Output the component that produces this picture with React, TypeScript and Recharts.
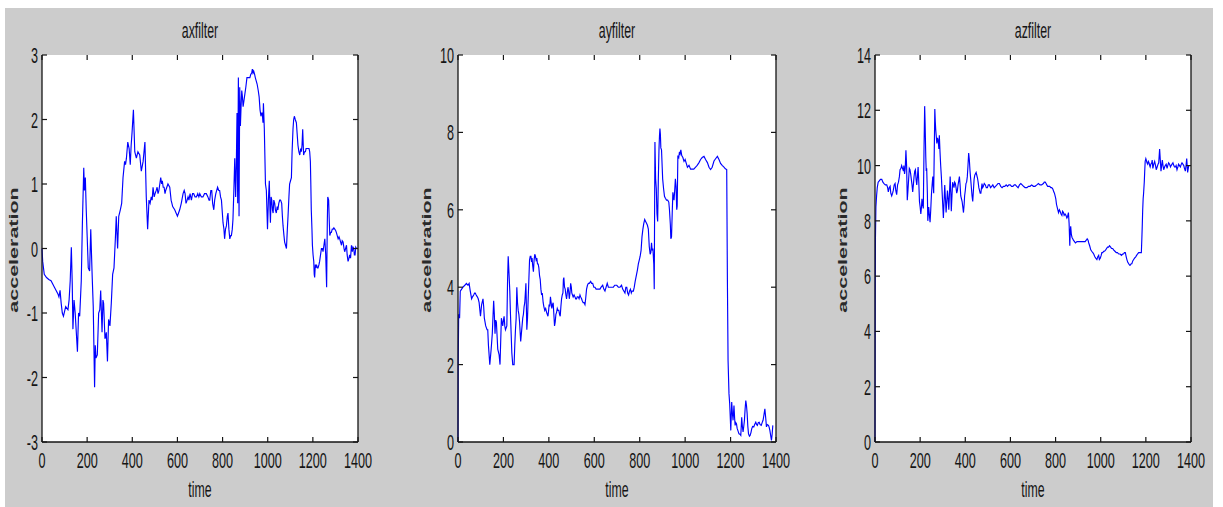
import { LineChart, Line, XAxis, YAxis, CartesianGrid } from "recharts";

// axfilter
const axTime = [0, 3, 10, 20, 30, 40, 55, 70, 75, 80, 85, 90, 95, 105, 115, 120, 125, 130, 134, 137, 142, 147, 152, 157, 162, 167, 174, 179, 185, 188, 192, 196, 200, 205, 211, 216, 222, 227, 233, 236, 239, 245, 251, 256, 260, 266, 270, 273, 279, 285, 290, 295, 301, 307, 313, 319, 325, 329, 335, 340, 347, 353, 359, 366, 370, 374, 380, 386, 391, 395, 399, 405, 411, 418, 425, 433, 440, 448, 456, 462, 468, 474, 479, 484, 488, 492, 497, 501, 506, 510, 514, 518, 522, 526, 530, 533, 537, 541, 545, 548, 553, 558, 566, 572, 579, 588, 594, 600, 605, 610, 617, 625, 630, 634, 638, 643, 647, 651, 656, 662, 667, 672, 678, 684, 690, 695, 699, 706, 713, 720, 728, 735, 740, 743, 748, 752, 756, 761, 765, 770, 774, 778, 783, 787, 791, 795, 799, 802, 806, 809, 813, 817, 821, 824, 828, 832, 836, 839, 843, 846, 850, 854, 858, 861, 864, 867, 870, 873, 876, 879, 882, 885, 888, 891, 895, 899, 903, 908, 912, 917, 921, 925, 929, 932, 935, 938, 942, 945, 949, 953, 958, 962, 966, 970, 973, 976, 979, 981, 985, 990, 994, 999, 1003, 1007, 1010, 1012, 1015, 1018, 1021, 1024, 1027, 1031, 1034, 1038, 1042, 1045, 1049, 1053, 1057, 1062, 1065, 1068, 1072, 1075, 1079, 1083, 1087, 1090, 1094, 1097, 1101, 1105, 1108, 1112, 1115, 1118, 1122, 1127, 1130, 1134, 1138, 1142, 1146, 1149, 1152, 1155, 1159, 1163, 1167, 1170, 1174, 1178, 1183, 1186, 1189, 1191, 1193, 1196, 1198, 1201, 1204, 1206, 1208, 1211, 1213, 1216, 1220, 1223, 1227, 1230, 1234, 1238, 1242, 1245, 1249, 1253, 1257, 1261, 1264, 1266, 1270, 1273, 1275, 1279, 1282, 1286, 1290, 1293, 1297, 1301, 1304, 1308, 1312, 1316, 1319, 1323, 1327, 1330, 1334, 1338, 1341, 1345, 1349, 1352, 1356, 1360, 1363, 1367, 1371, 1375, 1378, 1381, 1384, 1387, 1390, 1393];
const axValue = [0, -0.2, -0.4, -0.45, -0.48, -0.5, -0.6, -0.7, -0.75, -0.65, -0.85, -1.0, -1.05, -0.9, -0.95, -0.8, -0.5, 0.02, -0.55, -1.25, -0.8, -1.0, -1.3, -1.6, -1.0, -1.05, -0.5, 0.4, 1.25, 0.9, 1.1, 0.6, 0.2, -0.3, -0.35, 0.3, -0.4, -0.9, -2.15, -1.5, -1.7, -1.65, -1.0, -0.95, -0.65, -1.3, -0.8, -0.85, -1.4, -1.3, -1.75, -1.1, -1.2, -0.85, -0.4, -0.3, 0.15, 0.5, 0.0, 0.5, 0.6, 0.7, 1.1, 1.35, 1.3, 1.4, 1.65, 1.55, 1.3, 1.6, 1.8, 2.15, 1.5, 1.4, 1.5, 1.45, 1.2, 1.35, 1.65, 0.8, 0.3, 0.75, 0.7, 0.8, 0.75, 0.95, 0.8, 0.85, 0.9, 0.95, 0.85, 0.9, 1.0, 1.1, 1.0, 1.05, 0.95, 0.95, 0.85, 0.9, 0.95, 1.0, 0.95, 0.75, 0.65, 0.6, 0.55, 0.5, 0.55, 0.6, 0.7, 0.85, 0.9, 0.85, 0.7, 0.75, 0.8, 0.75, 0.85, 0.75, 0.85, 0.85, 0.8, 0.8, 0.85, 0.8, 0.85, 0.8, 0.8, 0.85, 0.85, 0.8, 0.75, 0.75, 0.9, 0.9, 0.7, 0.6, 0.75, 0.85, 0.9, 0.95, 0.9, 0.9, 0.8, 0.75, 0.55, 0.4, 0.3, 0.15, 0.3, 0.35, 0.5, 0.55, 0.3, 0.15, 0.2, 0.2, 0.3, 0.45, 0.9, 1.4, 0.8, 1.3, 2.1, 0.7, 2.65, 0.5, 2.5, 1.9, 2.2, 2.45, 2.35, 2.2, 2.3, 2.4, 2.5, 2.65, 2.65, 2.65, 2.65, 2.7, 2.72, 2.78, 2.72, 2.75, 2.7, 2.65, 2.6, 2.55, 2.45, 2.35, 2.15, 2.05, 2.1, 2.1, 1.95, 2.25, 1.85, 1.0, 0.9, 0.3, 0.75, 1.05, 0.6, 0.4, 0.8, 0.75, 0.6, 0.55, 0.75, 0.7, 0.6, 0.55, 0.65, 0.6, 0.7, 0.75, 0.75, 0.7, 0.5, 0.35, 0.2, 0.1, 0.05, 0.0, 0.3, 0.5, 0.8, 1.0, 1.05, 1.1, 1.5, 1.85, 2.0, 2.05, 2.0, 1.95, 1.8, 1.6, 1.5, 1.45, 1.55, 1.5, 1.6, 1.85, 1.45, 1.5, 1.5, 1.55, 1.55, 1.55, 1.55, 1.5, 1.35, 1.0, 0.6, 0.3, 0.05, -0.1, -0.2, -0.4, -0.45, -0.25, -0.3, -0.25, -0.3, -0.3, -0.25, -0.2, -0.1, 0.0, 0.0, -0.05, 0.05, 0.15, -0.1, -0.6, 0.4, 0.8, 0.75, 0.4, 0.2, 0.25, 0.25, 0.3, 0.3, 0.32, 0.3, 0.28, 0.25, 0.2, 0.15, 0.18, 0.15, 0.1, 0.05, 0.12, 0.1, 0.0, -0.05, 0.0, 0.05, -0.1, -0.2, -0.15, -0.1, -0.15, 0.05, -0.05, 0.02, 0.0, -0.1, -0.1, 0.02, 0.0];

// ayfilter
const ayTime = [0, 1, 3, 7, 10, 16, 22, 30, 37, 44, 49, 54, 60, 64, 69, 73, 76, 80, 85, 89, 93, 99, 104, 110, 113, 116, 122, 128, 131, 134, 140, 146, 151, 157, 160, 163, 166, 169, 175, 181, 185, 191, 194, 197, 200, 203, 206, 209, 212, 215, 218, 221, 225, 228, 231, 234, 237, 241, 247, 250, 253, 256, 259, 262, 265, 268, 271, 276, 279, 282, 285, 288, 291, 294, 297, 299, 301, 303, 306, 309, 312, 315, 318, 321, 324, 326, 329, 332, 335, 338, 341, 344, 347, 350, 353, 356, 359, 362, 365, 368, 371, 375, 378, 382, 386, 390, 393, 396, 399, 401, 404, 407, 410, 413, 416, 419, 422, 425, 428, 431, 434, 437, 440, 444, 447, 450, 453, 456, 459, 462, 464, 466, 469, 472, 475, 478, 481, 484, 487, 490, 493, 496, 499, 501, 504, 507, 511, 515, 518, 522, 525, 529, 533, 537, 540, 544, 547, 551, 555, 559, 562, 566, 570, 574, 578, 584, 588, 593, 598, 603, 608, 613, 618, 625, 630, 637, 642, 647, 652, 657, 662, 669, 676, 684, 690, 699, 706, 713, 720, 725, 730, 735, 739, 743, 747, 751, 755, 759, 763, 766, 772, 776, 780, 785, 790, 794, 798, 802, 806, 810, 814, 818, 822, 826, 830, 834, 838, 842, 846, 849, 852, 855, 858, 862, 864, 866, 867, 870, 873, 876, 879, 882, 885, 887, 889, 891, 893, 896, 899, 901, 905, 909, 913, 918, 923, 928, 931, 935, 937, 940, 943, 946, 948, 951, 954, 957, 960, 963, 965, 968, 972, 975, 978, 981, 985, 990, 995, 1000, 1005, 1010, 1017, 1024, 1031, 1038, 1046, 1053, 1061, 1068, 1075, 1083, 1090, 1098, 1105, 1112, 1119, 1127, 1134, 1142, 1149, 1156, 1163, 1171, 1177, 1183, 1186, 1189, 1193, 1196, 1198, 1201, 1205, 1208, 1211, 1215, 1218, 1220, 1223, 1226, 1229, 1232, 1237, 1241, 1245, 1249, 1252, 1255, 1258, 1261, 1264, 1267, 1270, 1273, 1276, 1279, 1283, 1286, 1290, 1293, 1297, 1302, 1306, 1311, 1315, 1318, 1322, 1326, 1330, 1335, 1339, 1343, 1347, 1351, 1355, 1358, 1362, 1367, 1370, 1373, 1377, 1380, 1383, 1386];
const ayValue = [0, 2.1, 3.3, 3.2, 3.9, 3.95, 4.0, 4.05, 4.1, 4.05, 4.1, 3.9, 3.7, 3.75, 3.8, 3.85, 3.85, 3.8, 3.75, 3.7, 3.6, 3.25, 3.55, 3.7, 3.5, 3.2, 3.0, 2.9, 2.9, 2.5, 2.0, 2.4, 2.8, 3.65, 3.3, 2.8, 3.15, 3.1, 2.4, 2.25, 2.0, 3.2, 3.1, 3.0, 3.15, 3.25, 3.0, 2.9, 2.95, 3.0, 4.1, 4.8, 4.3, 3.9, 3.3, 2.8, 2.3, 2.0, 2.0, 2.5, 2.9, 3.2, 4.0, 3.6, 3.4, 3.3, 3.1, 2.6, 2.8, 3.0, 3.2, 3.3, 3.5, 3.6, 3.9, 4.1, 3.5, 2.9, 3.2, 3.7, 4.2, 4.7, 4.8, 4.8, 4.65, 4.75, 4.55, 4.4, 4.7, 4.85, 4.8, 4.7, 4.75, 4.6, 4.6, 4.5, 4.3, 4.2, 3.95, 3.8, 3.85, 3.6, 3.5, 3.4, 3.45, 3.35, 3.3, 3.25, 3.4, 3.55, 3.5, 3.75, 3.6, 3.45, 3.55, 3.6, 3.3, 3.0, 3.1, 3.3, 3.35, 3.45, 3.4, 3.4, 3.3, 3.25, 3.5, 3.7, 3.8, 3.85, 4.2, 4.25, 4.0, 3.95, 3.8, 3.7, 3.85, 4.0, 3.9, 3.7, 3.85, 4.1, 4.0, 3.85, 3.8, 3.75, 3.8, 3.75, 3.7, 3.7, 3.75, 3.75, 3.7, 3.8, 3.75, 3.7, 3.65, 3.6, 3.6, 3.55, 3.7, 3.95, 4.05, 4.1, 4.1, 4.15, 4.1, 4.1, 4.0, 4.0, 3.95, 3.95, 3.95, 3.95, 4.0, 4.05, 3.95, 3.9, 4.0, 4.1, 4.0, 4.0, 4.0, 4.0, 4.05, 4.05, 4.0, 4.0, 4.05, 3.95, 3.9, 3.85, 4.0, 4.0, 3.85, 3.8, 3.9, 3.95, 3.85, 3.9, 3.9, 4.0, 4.15, 4.3, 4.45, 4.6, 4.7, 4.8, 4.95, 5.3, 5.5, 5.65, 5.75, 5.7, 5.65, 5.6, 5.5, 5.05, 4.85, 4.9, 5.15, 4.95, 5.0, 4.6, 3.95, 6.5, 7.75, 6.8, 6.55, 5.9, 5.7, 6.8, 7.6, 7.9, 8.1, 7.95, 7.6, 7.55, 7.1, 6.8, 6.55, 6.35, 6.3, 6.25, 6.25, 6.2, 6.0, 5.6, 5.25, 5.3, 5.9, 6.45, 6.35, 6.25, 6.5, 6.8, 6.6, 6.0, 6.1, 7.4, 7.35, 7.5, 7.45, 7.55, 7.4, 7.35, 7.25, 7.3, 7.2, 7.1, 7.15, 7.05, 7.05, 7.05, 7.1, 7.15, 7.22, 7.3, 7.35, 7.38, 7.3, 7.22, 7.1, 7.04, 7.1, 7.26, 7.32, 7.38, 7.3, 7.2, 7.15, 7.1, 7.06, 7.04, 4.2, 2.1, 1.25, 1.0, 0.73, 0.3, 1.03, 0.75, 0.56, 0.94, 0.6, 0.43, 0.5, 0.47, 0.35, 0.3, 0.21, 0.2, 0.17, 0.64, 0.4, 0.26, 0.4, 0.56, 0.85, 1.07, 0.95, 0.73, 0.4, 0.21, 0.15, 0.17, 0.25, 0.34, 0.4, 0.39, 0.45, 0.51, 0.45, 0.43, 0.5, 0.51, 0.45, 0.43, 0.5, 0.56, 0.7, 0.86, 0.6, 0.39, 0.45, 0.43, 0.38, 0.3, 0.15, 0.04, 0.2, 0.43];

// azfilter
const azTime = [0, 1, 2, 4, 7, 10, 14, 19, 24, 30, 35, 40, 46, 52, 56, 59, 63, 67, 70, 74, 78, 81, 85, 89, 92, 96, 100, 104, 108, 111, 115, 118, 122, 126, 128, 131, 134, 137, 140, 143, 146, 149, 152, 155, 158, 161, 164, 167, 170, 173, 176, 179, 182, 185, 188, 191, 194, 197, 200, 203, 206, 208, 211, 214, 217, 220, 222, 225, 227, 229, 232, 234, 236, 238, 241, 244, 247, 250, 253, 256, 258, 260, 263, 265, 267, 269, 272, 274, 277, 280, 283, 285, 288, 291, 294, 297, 300, 303, 306, 309, 312, 315, 318, 321, 324, 327, 330, 333, 336, 338, 341, 344, 347, 350, 353, 356, 359, 362, 365, 368, 371, 374, 377, 380, 383, 386, 389, 392, 395, 397, 400, 403, 406, 409, 412, 415, 418, 421, 424, 427, 430, 433, 436, 439, 442, 445, 448, 451, 454, 457, 460, 463, 466, 469, 472, 474, 477, 480, 484, 489, 493, 498, 502, 507, 512, 517, 522, 528, 534, 540, 545, 551, 557, 563, 569, 575, 581, 587, 593, 599, 605, 611, 617, 622, 628, 634, 640, 646, 652, 658, 665, 673, 680, 687, 694, 702, 709, 717, 724, 731, 738, 746, 750, 754, 758, 761, 765, 770, 774, 779, 783, 788, 792, 795, 798, 801, 804, 807, 810, 813, 817, 820, 824, 828, 831, 835, 838, 842, 846, 850, 853, 857, 860, 863, 865, 867, 870, 873, 876, 879, 884, 888, 895, 902, 909, 916, 923, 931, 936, 940, 944, 947, 951, 956, 960, 965, 969, 974, 978, 983, 987, 991, 994, 998, 1002, 1005, 1009, 1013, 1017, 1022, 1026, 1030, 1035, 1039, 1044, 1048, 1053, 1057, 1063, 1069, 1074, 1080, 1086, 1092, 1097, 1101, 1105, 1109, 1113, 1116, 1120, 1124, 1128, 1131, 1135, 1138, 1142, 1146, 1150, 1155, 1159, 1163, 1168, 1172, 1176, 1180, 1182, 1184, 1186, 1188, 1190, 1193, 1195, 1197, 1200, 1202, 1205, 1208, 1211, 1214, 1217, 1219, 1222, 1226, 1228, 1231, 1235, 1239, 1243, 1246, 1250, 1254, 1257, 1261, 1264, 1267, 1270, 1273, 1276, 1279, 1283, 1286, 1290, 1294, 1297, 1301, 1305, 1309, 1312, 1316, 1320, 1324, 1327, 1331, 1334, 1338, 1342, 1345, 1349, 1353, 1357, 1360, 1364, 1368, 1371, 1375, 1378, 1381, 1383, 1385, 1388, 1390];
const azValue = [0, 5.0, 7.4, 8.5, 8.9, 9.2, 9.4, 9.45, 9.5, 9.5, 9.4, 9.35, 9.3, 9.3, 9.2, 9.05, 9.2, 9.25, 9.0, 8.9, 9.0, 9.1, 9.3, 9.35, 9.1, 8.95, 9.3, 9.4, 9.6, 9.85, 9.9, 10.0, 9.9, 9.8, 10.0, 9.7, 9.9, 10.55, 10.0, 8.75, 9.1, 9.5, 9.9, 9.85, 9.7, 9.5, 9.3, 9.05, 9.3, 9.6, 9.8, 9.85, 9.5, 9.3, 9.6, 9.95, 9.4, 8.7, 8.5, 8.25, 8.5, 8.8, 8.6, 8.45, 10.5, 12.15, 11.5, 10.3, 9.8, 9.9, 9.0, 8.0, 8.3, 8.5, 8.2, 7.95, 8.4, 8.95, 9.3, 9.6, 9.3, 9.0, 10.8, 12.05, 11.6, 11.3, 11.0, 10.8, 11.0, 10.9, 10.6, 11.1, 10.5, 10.0, 9.6, 9.1, 8.6, 8.1, 8.7, 9.3, 8.8, 8.3, 8.7, 9.1, 8.8, 8.4, 9.0, 9.6, 9.0, 8.35, 8.9, 9.4, 9.3, 9.2, 9.4, 9.35, 9.2, 9.0, 9.1, 9.3, 9.45, 9.6, 9.3, 8.9, 8.8, 8.7, 8.5, 8.3, 8.6, 8.9, 9.1, 9.35, 9.4, 9.6, 10.0, 10.45, 10.2, 9.8, 9.5, 9.2, 8.9, 8.7, 9.1, 9.5, 9.65, 9.7, 9.75, 9.65, 9.55, 9.4, 9.2, 9.1, 9.0, 9.0, 9.2, 9.35, 9.2, 9.25, 9.35, 9.3, 9.2, 9.2, 9.3, 9.3, 9.2, 9.25, 9.3, 9.2, 9.25, 9.3, 9.35, 9.35, 9.25, 9.2, 9.25, 9.25, 9.3, 9.25, 9.3, 9.3, 9.25, 9.25, 9.3, 9.3, 9.25, 9.2, 9.3, 9.35, 9.3, 9.25, 9.2, 9.2, 9.25, 9.25, 9.3, 9.25, 9.25, 9.3, 9.35, 9.3, 9.3, 9.35, 9.4, 9.4, 9.35, 9.3, 9.25, 9.25, 9.25, 9.2, 9.2, 9.15, 9.05, 9.0, 8.9, 8.8, 8.6, 8.5, 8.4, 8.3, 8.4, 8.35, 8.25, 8.2, 8.35, 8.3, 8.2, 8.25, 8.2, 8.1, 8.15, 8.3, 7.9, 7.1, 7.6, 7.8, 7.5, 7.4, 7.35, 7.3, 7.25, 7.2, 7.25, 7.25, 7.25, 7.25, 7.25, 7.25, 7.3, 7.35, 7.3, 7.2, 7.1, 6.95, 6.9, 6.85, 6.8, 6.7, 6.65, 6.6, 6.7, 6.75, 6.6, 6.65, 6.75, 6.85, 6.85, 6.9, 6.9, 6.95, 7.0, 7.05, 7.05, 7.1, 7.05, 7.0, 7.0, 6.95, 6.9, 6.85, 6.85, 6.8, 6.8, 6.75, 6.8, 6.8, 6.85, 6.85, 6.7, 6.6, 6.5, 6.45, 6.4, 6.4, 6.45, 6.45, 6.55, 6.6, 6.65, 6.7, 6.75, 6.8, 6.85, 6.85, 6.85, 6.85, 7.3, 7.8, 8.4, 8.8, 9.0, 9.4, 9.8, 10.15, 10.25, 10.2, 10.1, 10.05, 10.15, 10.1, 10.0, 9.95, 10.05, 10.1, 10.2, 9.9, 10.05, 10.15, 10.0, 9.85, 9.95, 10.05, 10.1, 10.6, 10.2, 9.8, 10.0, 10.2, 10.0, 9.85, 9.95, 10.0, 10.05, 9.9, 10.0, 10.1, 10.05, 9.95, 10.0, 10.05, 10.1, 10.0, 9.95, 9.95, 10.0, 9.85, 9.95, 10.05, 10.0, 9.95, 10.05, 10.1, 10.05, 10.0, 9.9, 9.8, 10.0, 10.25, 10.0, 9.75, 9.9, 10.0];

const timeTicks = [0, 200, 400, 600, 800, 1000, 1200, 1400];
const axTicks = [-3, -2, -1, 0, 1, 2, 3];
const ayTicks = [0, 2, 4, 6, 8, 10];
const azTicks = [0, 2, 4, 6, 8, 10, 12, 14];

const FONT = '"Liberation Sans", Arial, sans-serif';
const INK = "#151515";
const SQUEEZE = 0.56;
const H = 507;
const PLOT_TOP = 55;
const PLOT_BOTTOM = 442;
const TICK = 5;

function Panel({ title, times, values, yTicks, left, width, plotLeft, plotRight, labelX }) {
  const data = times.map((t, i) => ({ t, v: values[i] }));
  const domain = [yTicks[0], yTicks[yTicks.length - 1]];
  const rightW = width - plotRight;
  const midX = (plotLeft + plotRight) / 2;
  const frame = { stroke: INK, strokeWidth: 1.3 };

  const xTick = (p) => (
    <g>
      <line x1={p.x} x2={p.x} y1={PLOT_BOTTOM} y2={PLOT_BOTTOM - TICK} stroke={INK} strokeWidth={1.2} />
      <line x1={p.x} x2={p.x} y1={PLOT_TOP} y2={PLOT_TOP + TICK} stroke={INK} strokeWidth={1.2} />
      <text
        transform={`translate(${p.x},468) scale(${SQUEEZE},1)`}
        textAnchor="middle"
        fontSize={22.5}
        fontFamily={FONT}
        fill={INK}
      >
        {p.payload.value}
      </text>
    </g>
  );

  const yTick = (p) => (
    <g>
      <line x1={plotLeft} x2={plotLeft + TICK} y1={p.y} y2={p.y} stroke={INK} strokeWidth={1.2} />
      <line x1={plotRight} x2={plotRight - TICK} y1={p.y} y2={p.y} stroke={INK} strokeWidth={1.2} />
      <text
        transform={`translate(${plotLeft - 4},${p.y + 8}) scale(${SQUEEZE},1)`}
        textAnchor="end"
        fontSize={22.5}
        fontFamily={FONT}
        fill={INK}
      >
        {p.payload.value}
      </text>
    </g>
  );

  return (
    <div style={{ position: "absolute", left, top: 0, width, height: H }}>
      <LineChart width={width} height={H} data={data} margin={{ top: PLOT_TOP, right: 0, bottom: 0, left: 0 }}>
        <CartesianGrid fill="#ffffff" horizontal={false} vertical={false} />
        <XAxis
          dataKey="t"
          type="number"
          domain={[0, 1400]}
          ticks={timeTicks}
          interval={0}
          height={H - PLOT_BOTTOM}
          tickLine={false}
          axisLine={frame}
          tick={xTick}
        />
        <XAxis
          xAxisId="top"
          orientation="top"
          type="number"
          domain={[0, 1400]}
          height={0}
          tick={false}
          tickLine={false}
          axisLine={frame}
        />
        <YAxis
          type="number"
          domain={domain}
          ticks={yTicks}
          interval={0}
          width={plotLeft}
          tickLine={false}
          axisLine={frame}
          tick={yTick}
        />
        <YAxis
          yAxisId="right"
          orientation="right"
          type="number"
          domain={domain}
          width={rightW}
          tick={false}
          tickLine={false}
          axisLine={frame}
        />
        <Line
          dataKey="v"
          type="linear"
          stroke="#0000ff"
          strokeWidth={1.15}
          dot={false}
          isAnimationActive={false}
        />
      </LineChart>
      <svg
        width={width}
        height={H}
        style={{ position: "absolute", left: 0, top: 0, pointerEvents: "none" }}
      >
        <text
          transform={`translate(${midX},38) scale(${SQUEEZE},1)`}
          textAnchor="middle"
          fontSize={22}
          fontFamily={FONT}
          fill={INK}
        >
          {title}
        </text>
        <text
          transform={`translate(${midX},497) scale(${SQUEEZE},1)`}
          textAnchor="middle"
          fontSize={22}
          fontFamily={FONT}
          fill={INK}
        >
          time
        </text>
        <text
          transform={`translate(${labelX},250) rotate(-90) scale(1,0.58)`}
          textAnchor="middle"
          fontSize={21.5}
          fontWeight={700}
          fontFamily={FONT}
          fill="#2a2a2a"
        >
          acceleration
        </text>
      </svg>
    </div>
  );
}

export default function App() {
  return (
    <div
      style={{
        position: "fixed",
        left: 0,
        top: 0,
        width: 1223,
        height: H,
        background: "#ffffff",
        overflow: "hidden",
      }}
    >
      <div style={{ position: "absolute", left: 5, top: 8, width: 1208, height: H - 8, background: "#cccccc" }} />
      <Panel title="axfilter" times={axTime} values={axValue} yTicks={axTicks} left={0} width={400} plotLeft={42} plotRight={358} labelX={18} />
      <Panel title="ayfilter" times={ayTime} values={ayValue} yTicks={ayTicks} left={410} width={400} plotLeft={48} plotRight={366} labelX={21} />
      <Panel title="azfilter" times={azTime} values={azValue} yTicks={azTicks} left={820} width={403} plotLeft={55} plotRight={371} labelX={27} />
    </div>
  );
}
